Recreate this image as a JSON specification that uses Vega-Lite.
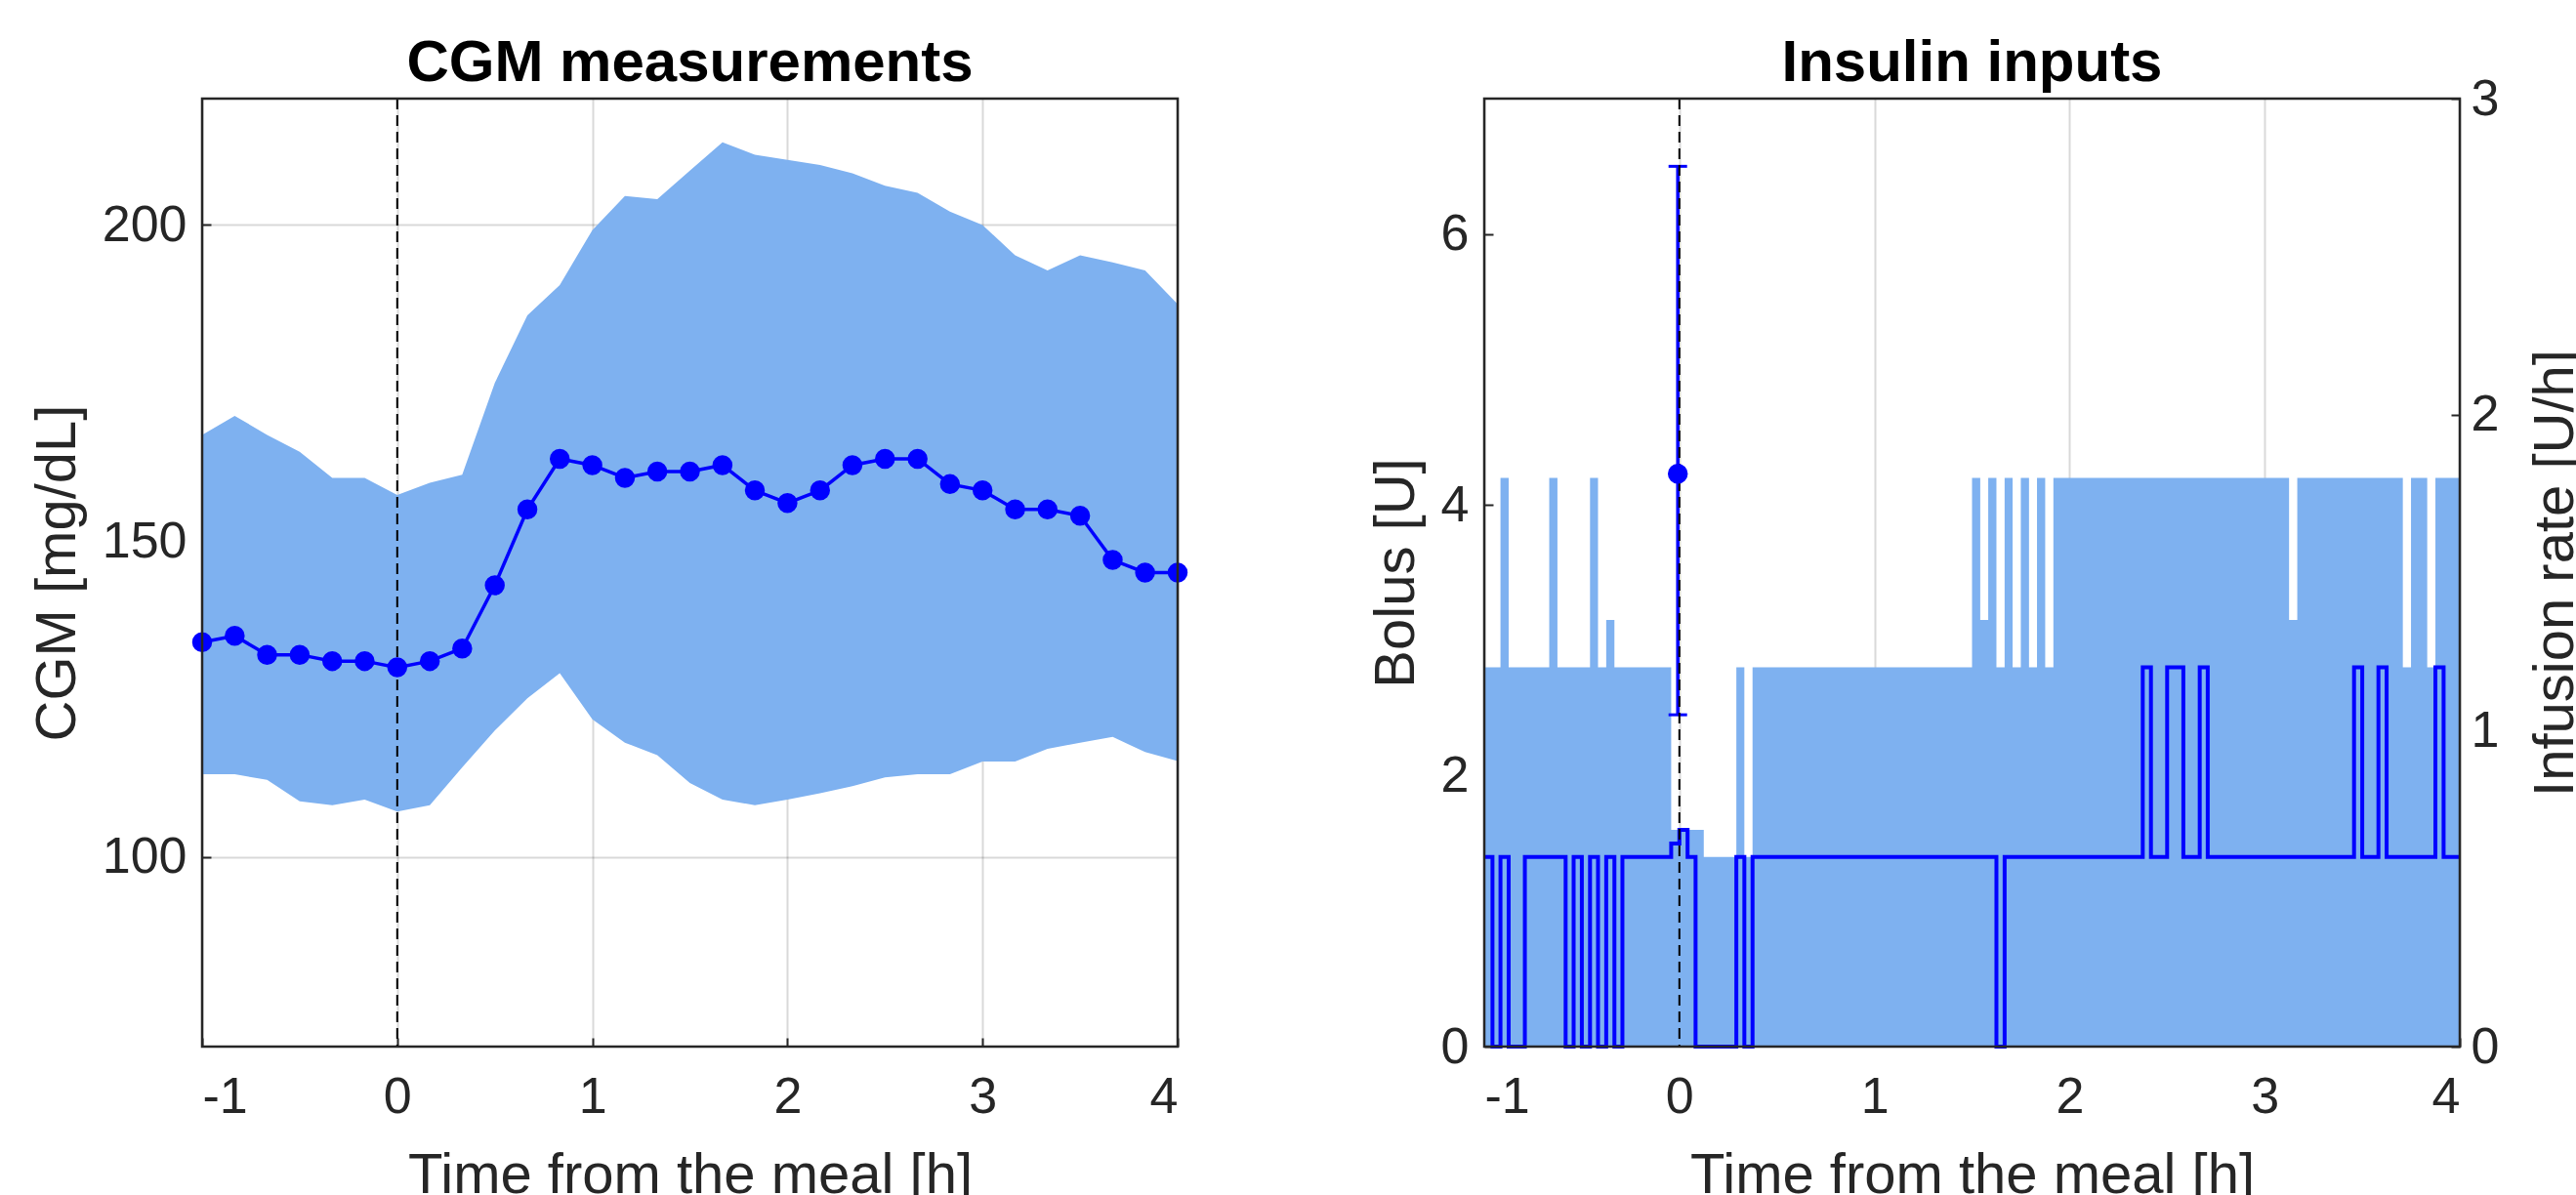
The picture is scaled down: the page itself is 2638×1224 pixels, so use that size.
{
  "$schema": "https://vega.github.io/schema/vega-lite/v6.json",
  "background": "white",
  "padding": {"left": 30, "top": 34, "right": 0, "bottom": 0},
  "bounds": "flush",
  "spacing": 314,
  "config": {
    "font": "Liberation Sans",
    "view": {"stroke": null},
    "title": {"fontSize": 60, "fontWeight": "bold", "color": "#000000", "offset": 4, "anchor": "middle", "frame": "group"},
    "axis": {
      "domain": false,
      "grid": true,
      "gridColor": "#000000",
      "gridOpacity": 0.15,
      "gridWidth": 2,
      "ticks": true,
      "tickSize": -9,
      "tickWidth": 2,
      "tickColor": "#262626",
      "labelFontSize": 52,
      "labelColor": "#262626",
      "labelFont": "Liberation Sans",
      "titleFont": "Liberation Sans",
      "titleFontSize": 58,
      "titleFontWeight": "normal",
      "titleColor": "#262626",
      "zindex": 1,
      "labelExpr": "'' + datum.value"
    },
    "axisX": {"labelPadding": 35, "titlePadding": 26},
    "axisY": {"labelPadding": 25, "titlePadding": 16}
  },
  "datasets": {
    "cgm": [
      {"t": -1, "mean": 134, "lo": 113.1, "hi": 166.8},
      {"t": -0.833, "mean": 135, "lo": 113.1, "hi": 169.8},
      {"t": -0.667, "mean": 132, "lo": 112.2, "hi": 166.8},
      {"t": -0.5, "mean": 132, "lo": 108.8, "hi": 164.1},
      {"t": -0.333, "mean": 131, "lo": 108.2, "hi": 160.0},
      {"t": -0.167, "mean": 131, "lo": 109.1, "hi": 160.0},
      {"t": 0, "mean": 130, "lo": 107.2, "hi": 157.3},
      {"t": 0.167, "mean": 131, "lo": 108.2, "hi": 159.2},
      {"t": 0.333, "mean": 133, "lo": 114.2, "hi": 160.5},
      {"t": 0.5, "mean": 143, "lo": 120.0, "hi": 175.0},
      {"t": 0.667, "mean": 155, "lo": 125.1, "hi": 185.7},
      {"t": 0.833, "mean": 163, "lo": 129.1, "hi": 190.5},
      {"t": 1, "mean": 162, "lo": 121.8, "hi": 199.2},
      {"t": 1.167, "mean": 160, "lo": 118.1, "hi": 204.6},
      {"t": 1.333, "mean": 161, "lo": 116.1, "hi": 204.1},
      {"t": 1.5, "mean": 161, "lo": 111.7, "hi": 208.6},
      {"t": 1.667, "mean": 162, "lo": 109.1, "hi": 213.1},
      {"t": 1.833, "mean": 158, "lo": 108.2, "hi": 211.1},
      {"t": 2, "mean": 156, "lo": 109.1, "hi": 210.3},
      {"t": 2.167, "mean": 158, "lo": 110.1, "hi": 209.5},
      {"t": 2.333, "mean": 162, "lo": 111.2, "hi": 208.2},
      {"t": 2.5, "mean": 163, "lo": 112.6, "hi": 206.2},
      {"t": 2.667, "mean": 163, "lo": 113.1, "hi": 205.1},
      {"t": 2.833, "mean": 159, "lo": 113.1, "hi": 202.1},
      {"t": 3, "mean": 158, "lo": 115.1, "hi": 200.0},
      {"t": 3.167, "mean": 155, "lo": 115.1, "hi": 195.2},
      {"t": 3.333, "mean": 155, "lo": 117.1, "hi": 192.8},
      {"t": 3.5, "mean": 154, "lo": 118.1, "hi": 195.2},
      {"t": 3.667, "mean": 147, "lo": 119.0, "hi": 194.1},
      {"t": 3.833, "mean": 145, "lo": 116.6, "hi": 192.8},
      {"t": 4, "mean": 145, "lo": 115.2, "hi": 187.5}
    ],
    "rate": [
      {"t": -1, "v": 0.6}, {"t": -0.958, "v": 0}, {"t": -0.917, "v": 0.6}, {"t": -0.875, "v": 0},
      {"t": -0.792, "v": 0.6}, {"t": -0.583, "v": 0}, {"t": -0.542, "v": 0.6}, {"t": -0.5, "v": 0},
      {"t": -0.458, "v": 0.6}, {"t": -0.417, "v": 0}, {"t": -0.375, "v": 0.6}, {"t": -0.333, "v": 0},
      {"t": -0.292, "v": 0.6}, {"t": -0.042, "v": 0.643}, {"t": 0, "v": 0.686}, {"t": 0.042, "v": 0.6},
      {"t": 0.083, "v": 0}, {"t": 0.292, "v": 0.6}, {"t": 0.333, "v": 0}, {"t": 0.375, "v": 0.6},
      {"t": 1.625, "v": 0}, {"t": 1.667, "v": 0.6}, {"t": 2.375, "v": 1.2}, {"t": 2.417, "v": 0.6},
      {"t": 2.5, "v": 1.2}, {"t": 2.583, "v": 0.6}, {"t": 2.667, "v": 1.2}, {"t": 2.708, "v": 0.6},
      {"t": 3.458, "v": 1.2}, {"t": 3.5, "v": 0.6}, {"t": 3.583, "v": 1.2}, {"t": 3.625, "v": 0.6},
      {"t": 3.875, "v": 1.2}, {"t": 3.917, "v": 0.6}, {"t": 4, "v": 0.6}
    ],
    "range": [
      {"t": -1, "top": 1.2}, {"t": -0.917, "top": 1.8}, {"t": -0.875, "top": 1.2}, {"t": -0.667, "top": 1.8},
      {"t": -0.625, "top": 1.2}, {"t": -0.458, "top": 1.8}, {"t": -0.417, "top": 1.2}, {"t": -0.375, "top": 1.35},
      {"t": -0.333, "top": 1.2}, {"t": -0.042, "top": 0.686}, {"t": 0.125, "top": 0.6}, {"t": 0.292, "top": 1.2},
      {"t": 0.333, "top": 0.6}, {"t": 0.375, "top": 1.2}, {"t": 1.5, "top": 1.8}, {"t": 1.542, "top": 1.35},
      {"t": 1.583, "top": 1.8}, {"t": 1.625, "top": 1.2}, {"t": 1.667, "top": 1.8}, {"t": 1.708, "top": 1.2},
      {"t": 1.75, "top": 1.8}, {"t": 1.792, "top": 1.2}, {"t": 1.833, "top": 1.8}, {"t": 1.875, "top": 1.2},
      {"t": 1.917, "top": 1.8}, {"t": 3.125, "top": 1.35}, {"t": 3.167, "top": 1.8}, {"t": 3.708, "top": 1.2},
      {"t": 3.75, "top": 1.8}, {"t": 3.833, "top": 1.2}, {"t": 3.875, "top": 1.8}, {"t": 4, "top": 1.8}
    ],
    "bolus": [
      {"t": -0.008, "y": 4.23, "lo": 2.45, "hi": 6.5}
    ]
  },
  "hconcat": [
    {
      "width": 999,
      "height": 971,
      "title": {"text": "CGM measurements"},
      "layer": [
        {
          "data": {"name": "cgm"},
          "mark": {"type": "area", "color": "#7EB1F0", "opacity": 1},
          "encoding": {
            "x": {"field": "t", "type": "quantitative", "scale": {"domain": [-1, 4], "nice": false, "zero": false},
                  "axis": {"title": "Time from the meal [h]", "values": [-1, 0, 1, 2, 3, 4]}},
            "y": {"field": "hi", "type": "quantitative", "scale": {"domain": [70, 220], "nice": false, "zero": false},
                  "axis": {"title": "CGM [mg/dL]", "values": [100, 150, 200]}},
            "y2": {"field": "lo"}
          }
        },
        {
          "data": {"values": [{}]},
          "mark": {"type": "rule", "color": "#000000", "strokeWidth": 2, "strokeDash": [11, 6]},
          "encoding": {"x": {"datum": 0}}
        },
        {
          "data": {"name": "cgm"},
          "mark": {"type": "line", "color": "#0000FF", "strokeWidth": 3.5,
                   "point": {"filled": true, "size": 420, "color": "#0000FF", "opacity": 1}},
          "encoding": {
            "x": {"field": "t", "type": "quantitative"},
            "y": {"field": "mean", "type": "quantitative"}
          }
        },
        {
          "data": {"values": [{}]},
          "mark": {"type": "rect", "fillOpacity": 0, "stroke": "#262626", "strokeWidth": 2.5},
          "encoding": {
            "x": {"datum": -1}, "x2": {"datum": 4},
            "y": {"datum": 70}, "y2": {"datum": 220}
          }
        }
      ]
    },
    {
      "width": 999,
      "height": 971,
      "title": {"text": "Insulin inputs", "offset": -21},
      "resolve": {"scale": {"y": "independent"}},
      "layer": [
        {
          "layer": [
            {
              "data": {"name": "range"},
              "mark": {"type": "area", "interpolate": "step-after", "color": "#7EB1F0", "opacity": 1},
              "encoding": {
                "x": {"field": "t", "type": "quantitative", "scale": {"domain": [-1, 4], "nice": false, "zero": false},
                      "axis": {"title": "Time from the meal [h]", "values": [-1, 0, 1, 2, 3, 4]}},
                "y": {"field": "top", "type": "quantitative", "scale": {"domain": [0, 3], "nice": false},
                      "axis": {"orient": "right", "title": "Infusion rate [U/h]", "values": [0, 1, 2, 3], "grid": false,
                               "titleAngle": 270, "titleBaseline": "top", "labelPadding": 20, "titlePadding": 30}}
              }
            },
            {
              "data": {"name": "rate"},
              "mark": {"type": "line", "interpolate": "step-after", "color": "#0000FF", "strokeWidth": 4},
              "encoding": {
                "x": {"field": "t", "type": "quantitative"},
                "y": {"field": "v", "type": "quantitative"}
              }
            }
          ]
        },
        {
          "layer": [
            {
              "data": {"name": "bolus"},
              "mark": {"type": "rule", "color": "#0000FF", "strokeWidth": 3.5},
              "encoding": {
                "x": {"field": "t", "type": "quantitative"},
                "y": {"field": "lo", "type": "quantitative", "scale": {"domain": [0, 7], "nice": false},
                      "axis": {"orient": "left", "title": "Bolus [U]", "values": [0, 2, 4, 6]}},
                "y2": {"field": "hi"}
              }
            },
            {
              "data": {"name": "bolus"},
              "mark": {"type": "tick", "orient": "horizontal", "color": "#0000FF", "size": 19, "thickness": 3, "opacity": 1},
              "encoding": {
                "x": {"field": "t", "type": "quantitative"},
                "y": {"field": "lo", "type": "quantitative"}
              }
            },
            {
              "data": {"name": "bolus"},
              "mark": {"type": "tick", "orient": "horizontal", "color": "#0000FF", "size": 19, "thickness": 3, "opacity": 1},
              "encoding": {
                "x": {"field": "t", "type": "quantitative"},
                "y": {"field": "hi", "type": "quantitative"}
              }
            },
            {
              "data": {"values": [{}]},
              "mark": {"type": "rule", "color": "#000000", "strokeWidth": 2, "strokeDash": [11, 6]},
              "encoding": {"x": {"datum": 0}}
            },
            {
              "data": {"name": "bolus"},
              "mark": {"type": "point", "filled": true, "size": 420, "color": "#0000FF", "opacity": 1},
              "encoding": {
                "x": {"field": "t", "type": "quantitative"},
                "y": {"field": "y", "type": "quantitative"}
              }
            },
            {
              "data": {"values": [{}]},
              "mark": {"type": "rect", "fillOpacity": 0, "stroke": "#262626", "strokeWidth": 2.5},
              "encoding": {
                "x": {"datum": -1}, "x2": {"datum": 4},
                "y": {"datum": 0}, "y2": {"datum": 7}
              }
            }
          ]
        }
      ]
    }
  ]
}
